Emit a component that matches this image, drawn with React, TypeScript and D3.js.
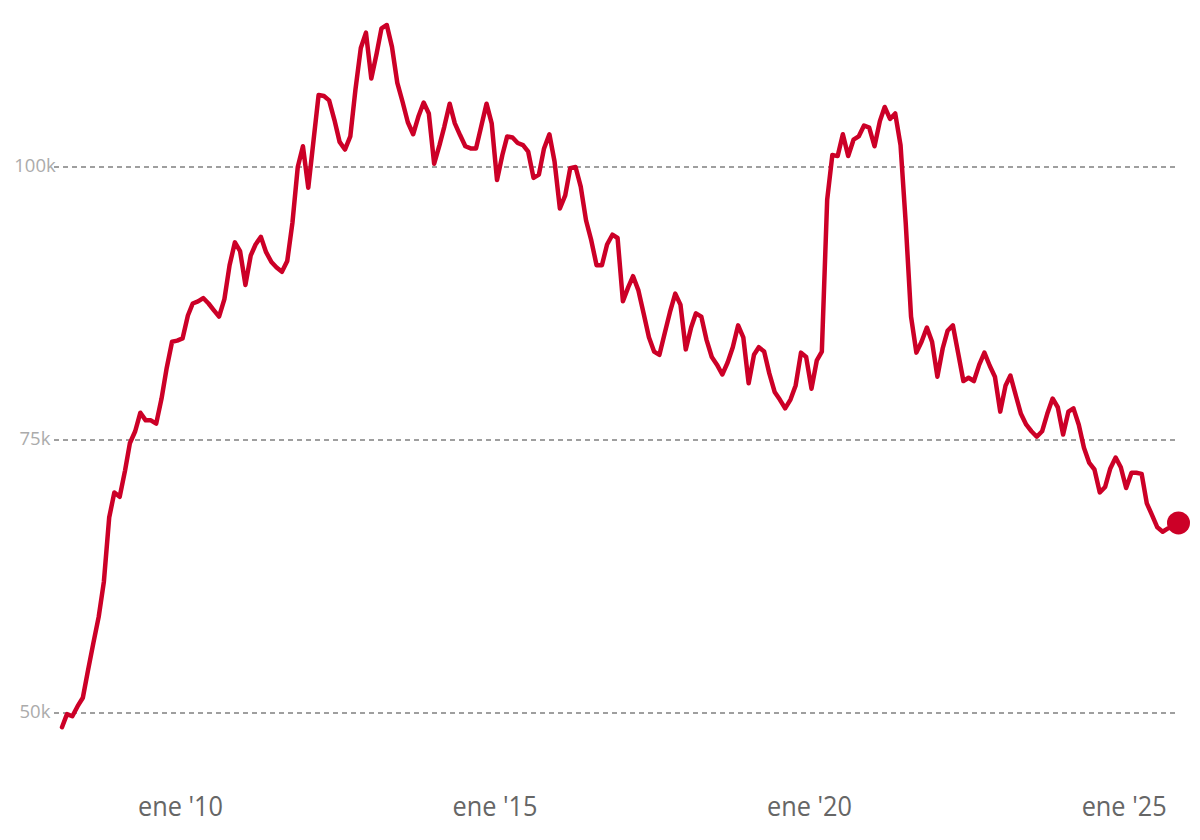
import React, { useEffect } from "react";
import * as d3 from "d3";

// Monthly values (thousands), Feb 2008 .. Nov 2025
const START_YEAR = 2008;
const START_MONTH = 1; // February (0-based)
const values: number[] = [
  48.7, 49.9, 49.7, 50.6, 51.4, 53.9, 56.4, 58.8, 62.0, 67.9, 70.2, 69.8,
  72.2, 74.7, 75.8, 77.5, 76.8, 76.8, 76.5, 78.8, 81.6, 84.0, 84.1, 84.3,
  86.4, 87.5, 87.7, 88.0, 87.5, 86.9, 86.3, 87.9, 91.0, 93.1, 92.3, 89.2,
  91.9, 92.9, 93.6, 92.2, 91.3, 90.8, 90.4, 91.4, 94.9, 100.0, 101.9, 98.1,
  102.5, 106.6, 106.5, 106.1, 104.3, 102.3, 101.6, 102.8, 107.1, 110.9, 112.3, 108.1,
  110.4, 112.7, 113.0, 111.0, 107.7, 106.0, 104.1, 103.0, 104.6, 105.9, 104.9, 100.3,
  102.0, 103.7, 105.8, 104.0, 102.9, 101.9, 101.7, 101.7, 103.7, 105.8, 104.0, 98.8,
  101.1, 102.8, 102.7, 102.2, 102.0, 101.4, 99.0, 99.3, 101.7, 103.0, 100.5, 96.2,
  97.4, 99.9, 100.0, 98.2, 95.1, 93.3, 91.0, 91.0, 92.9, 93.8, 93.5, 87.7,
  89.0, 90.0, 88.7, 86.6, 84.4, 83.1, 82.8, 84.8, 86.7, 88.4, 87.4, 83.3,
  85.3, 86.6, 86.3, 84.2, 82.6, 81.9, 81.0, 82.1, 83.5, 85.5, 84.4, 80.2,
  82.8, 83.5, 83.1, 81.1, 79.4, 78.7, 77.9, 78.7, 80.0, 83.0, 82.6, 79.7,
  82.3, 83.1, 97.0, 101.1, 101.0, 103.0, 101.0, 102.5, 102.8, 103.8, 103.6, 101.9,
  104.2, 105.5, 104.4, 104.9, 102.0, 94.9, 86.3, 83.0, 84.0, 85.3, 84.0, 80.8,
  83.4, 85.0, 85.5, 83.0, 80.4, 80.7, 80.4, 81.9, 83.0, 81.8, 80.8, 77.6,
  80.0, 80.9, 79.1, 77.4, 76.4, 75.8, 75.3, 75.8, 77.4, 78.8, 78.0, 75.5,
  77.6, 77.9, 76.4, 74.3, 72.9, 72.3, 70.2, 70.7, 72.4, 73.4, 72.5, 70.6,
  72.0, 72.0, 71.9, 69.2, 68.1, 67.0, 66.6, 66.9, 67.1, 67.4,
];

const yTicks = [50, 75, 100];
const yTickLabels = ["50k", "75k", "100k"];
const xTickYears = [2010, 2015, 2020, 2025];
const xTickLabels = ["ene '10", "ene '15", "ene '20", "ene '25"];

const data = values.map((v, i) => ({
  date: new Date(START_YEAR, START_MONTH + i, 1),
  value: v,
}));

export default function App() {
  useEffect(() => {
    document.body.style.margin = "0";
  }, []);

  const W = 1200;
  const H = 840;

  const x = d3
    .scaleTime()
    .domain([data[0].date, data[data.length - 1].date])
    .range([62, 1178.5]);
  const y = d3.scaleLinear().domain([50, 100]).range([713, 167]);

  const line = d3
    .line<{ date: Date; value: number }>()
    .x((d) => x(d.date))
    .y((d) => y(d.value))
    .curve(d3.curveLinear);

  const last = data[data.length - 1];

  return (
    <svg width={W} height={H} style={{ display: "block", background: "#fff" }}>
      {yTicks.map((t, i) => (
        <g key={t}>
          <line
            x1={54}
            x2={1175}
            y1={y(t)}
            y2={y(t)}
            stroke="#808080"
            strokeWidth={1.5}
            strokeDasharray="5 4"
          />
          <text
            x={35}
            y={y(t) + 5}
            textAnchor="middle"
            fontFamily="'Open Sans', sans-serif"
            fontSize={18.5}
            fill="#ababab"
          >
            {yTickLabels[i]}
          </text>
        </g>
      ))}
      {xTickYears.map((yr, i) => (
        <text
          key={yr}
          x={x(new Date(yr, 0, 1)) - 2}
          y={816}
          textAnchor="middle"
          fontFamily="'Open Sans', sans-serif"
          fontSize={28}
          fill="#666"
          textLength={85}
          lengthAdjust="spacingAndGlyphs"
        >
          {xTickLabels[i]}
        </text>
      ))}
      <path
        d={line(data) || ""}
        fill="none"
        stroke="#cc0027"
        strokeWidth={4.5}
        strokeLinejoin="round"
        strokeLinecap="round"
      />
      <circle cx={x(last.date)} cy={y(last.value)} r={11.5} fill="#cc0027" />
    </svg>
  );
}
